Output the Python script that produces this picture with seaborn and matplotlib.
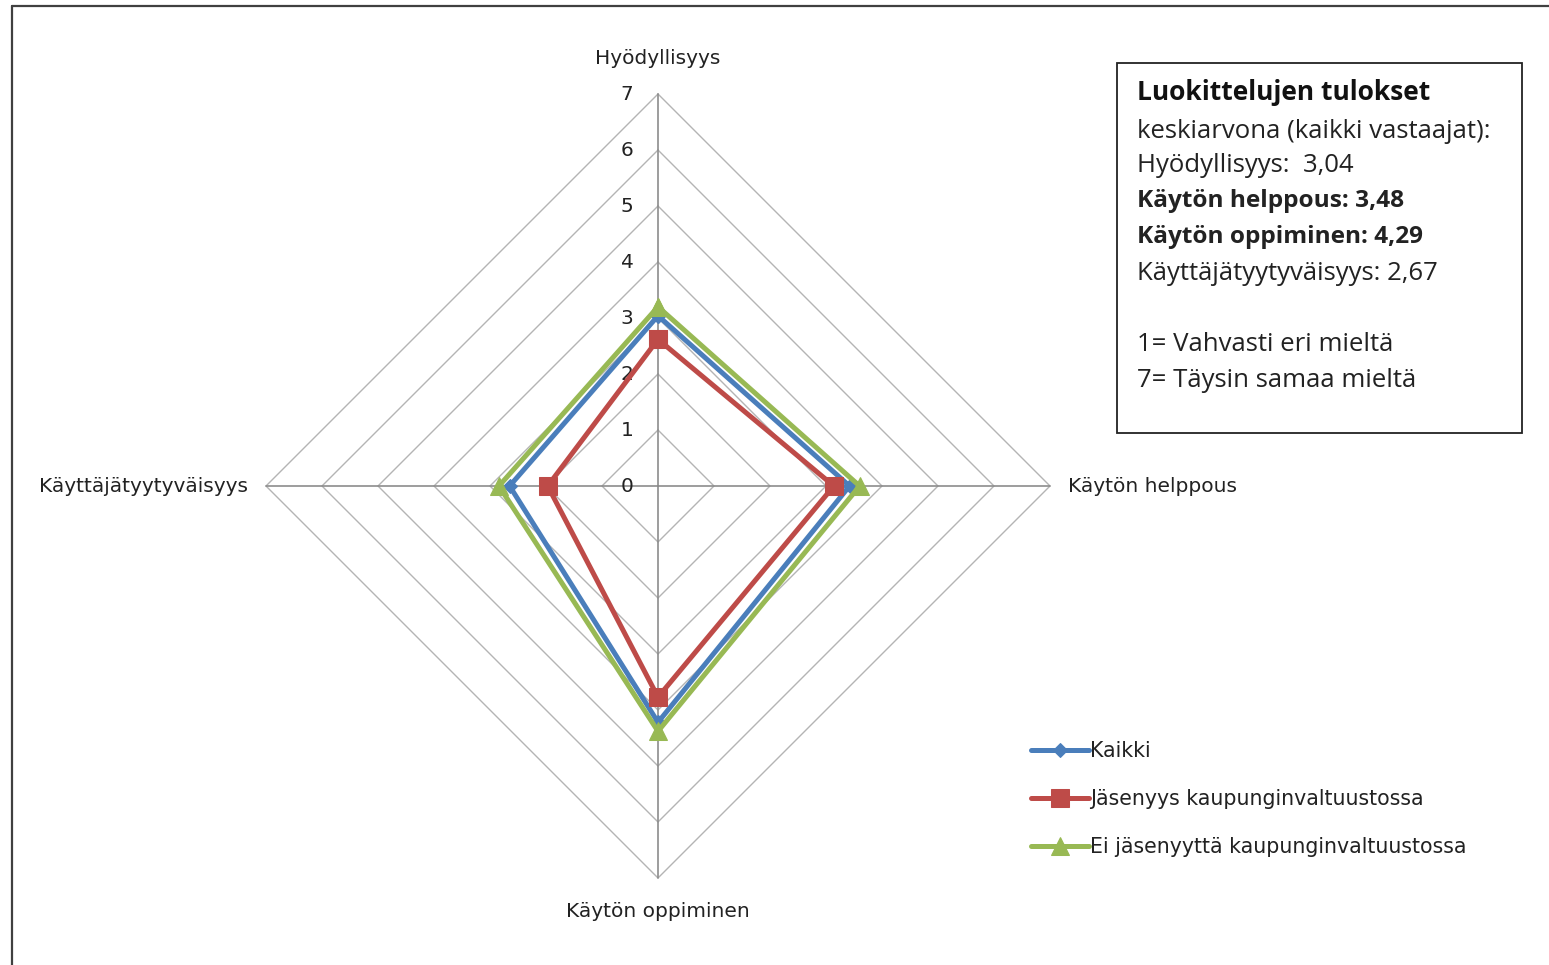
import numpy as np
import pandas as pd
import matplotlib
matplotlib.use("Agg")
import matplotlib.pyplot as plt
import seaborn as sns

# axes of the radar, clockwise from the top
categories = ["Hyödyllisyys", "Käytön helppous", "Käytön oppiminen", "Käyttäjätyytyväisyys"]
series_names = ["Kaikki", "Jäsenyys kaupunginvaltuustossa", "Ei jäsenyyttä kaupunginvaltuustossa"]
kaikki = [3.04, 3.42, 4.22, 2.65]
jasenyys = [2.62, 3.14, 3.77, 1.97]
ei_jasenyytta = [3.20, 3.60, 4.38, 2.84]
ticks = [0, 1, 2, 3, 4, 5, 6, 7]

info_title = "Luokittelujen tulokset"
info_lines = [
    ("keskiarvona (kaikki vastaajat):", "normal"),
    ("Hyödyllisyys:  3,04", "normal"),
    ("Käytön helppous: 3,48", "bold"),
    ("Käytön oppiminen: 4,29", "bold"),
    ("Käyttäjätyytyväisyys: 2,67", "normal"),
    ("", "normal"),
    ("1= Vahvasti eri mieltä", "normal"),
    ("7= Täysin samaa mieltä", "normal"),
]

colors = ["#4a7ebb", "#be4b48", "#98b954"]
markers = ["D", "s", "^"]
msizes = [7, 13, 13]

sns.set_style("white")
plt.rcParams["font.family"] = ["DejaVu Sans"]
box_font = ["Open Sans", "DejaVu Sans"]
fs = 14.5

W, H = 1549, 965
fig = plt.figure(figsize=(W / 100, H / 100), dpi=100)
ax = fig.add_axes([0, 0, 1, 1])

# pixel geometry of the radar: centre and 56 px per unit
cx, cy, unit = 658, 486, 56
ax.set_xlim(-cx / unit, (W - cx) / unit)
ax.set_ylim(-(H - cy) / unit, cy / unit)
ax.axis("off")

angles = np.arange(len(categories)) * 2 * np.pi / len(categories)


def to_xy(vals):
    vals = np.asarray(vals, dtype=float)
    return vals * np.sin(angles), vals * np.cos(angles)


# diamond grid rings
for t in ticks[1:]:
    gx, gy = to_xy([t] * len(categories))
    ax.plot(np.r_[gx, gx[0]], np.r_[gy, gy[0]], color="#b4b4b4", lw=1.0, zorder=1)
# spokes
rmax = max(ticks)
for a in angles:
    ax.plot([0, rmax * np.sin(a)], [0, rmax * np.cos(a)], color="#8c8c8c", lw=1.2, zorder=1)

# tick labels along the top spoke
for t in ticks:
    ax.text(-0.55, t, str(t), ha="center", va="center", fontsize=fs, color="#222222")

# category labels
ax.text(0, rmax + 0.63, categories[0], ha="center", va="center", fontsize=fs, color="#222222")
ax.text(rmax + 0.32, 0, categories[1], ha="left", va="center", fontsize=fs, color="#222222")
ax.text(0, -rmax - 0.6, categories[2], ha="center", va="center", fontsize=fs, color="#222222")
ax.text(-rmax - 0.32, 0, categories[3], ha="right", va="center", fontsize=fs, color="#222222")

# series
rows = []
for name, vals in zip(series_names, [kaikki, jasenyys, ei_jasenyytta]):
    xs, ys = to_xy(vals)
    xs, ys = np.r_[xs, xs[0]], np.r_[ys, ys[0]]
    for i, (x, y) in enumerate(zip(xs, ys)):
        rows.append({"series": name, "order": i, "x": x, "y": y})
df = pd.DataFrame(rows)

for name, c, m, ms in zip(series_names, colors, markers, msizes):
    sub = df[df["series"] == name]
    sns.lineplot(data=sub, x="x", y="y", sort=False, estimator=None, ax=ax,
                 color=c, lw=3.6, marker=m, markersize=ms, markeredgecolor=c,
                 label=name, zorder=3)

handles, labels = ax.get_legend_handles_labels()
ax.legend(handles, labels, loc="upper left", bbox_to_anchor=(1031 / W, 1 - 741 / H),
          bbox_transform=fig.transFigure, frameon=False, fontsize=14.8,
          handlelength=2.8, handletextpad=0.05, labelspacing=1.36, borderpad=0,
          borderaxespad=0, labelcolor="#222222")

# info box
box = plt.Rectangle((1117 / W, 1 - 433 / H), (1522 - 1117) / W, (433 - 63) / H,
                    transform=fig.transFigure, fill=False, edgecolor="#222222", lw=1.3)
fig.add_artist(box)
fig.text(1137 / W, 1 - 93 / H, info_title, ha="left", va="center", fontsize=19,
         fontweight="bold", color="#111111", family=box_font)
y_pos = [131, 165, 201, 237, 273, 309, 345, 380]
for (line, w), yp in zip(info_lines, y_pos):
    size = 17.6 if w == "bold" else 18.5
    fig.text(1137 / W, 1 - yp / H, line, ha="left", va="center", fontsize=size,
             fontweight=w, color="#222222", family=box_font)

# chart area border (left and top edges visible)
fig.add_artist(plt.Line2D([12 / W, 12 / W], [0, 1 - 6 / H], transform=fig.transFigure,
                          color="#404040", lw=1.6))
fig.add_artist(plt.Line2D([12 / W, 1], [1 - 6 / H, 1 - 6 / H], transform=fig.transFigure,
                          color="#404040", lw=1.6))

fig.savefig("out.png", dpi=100)
